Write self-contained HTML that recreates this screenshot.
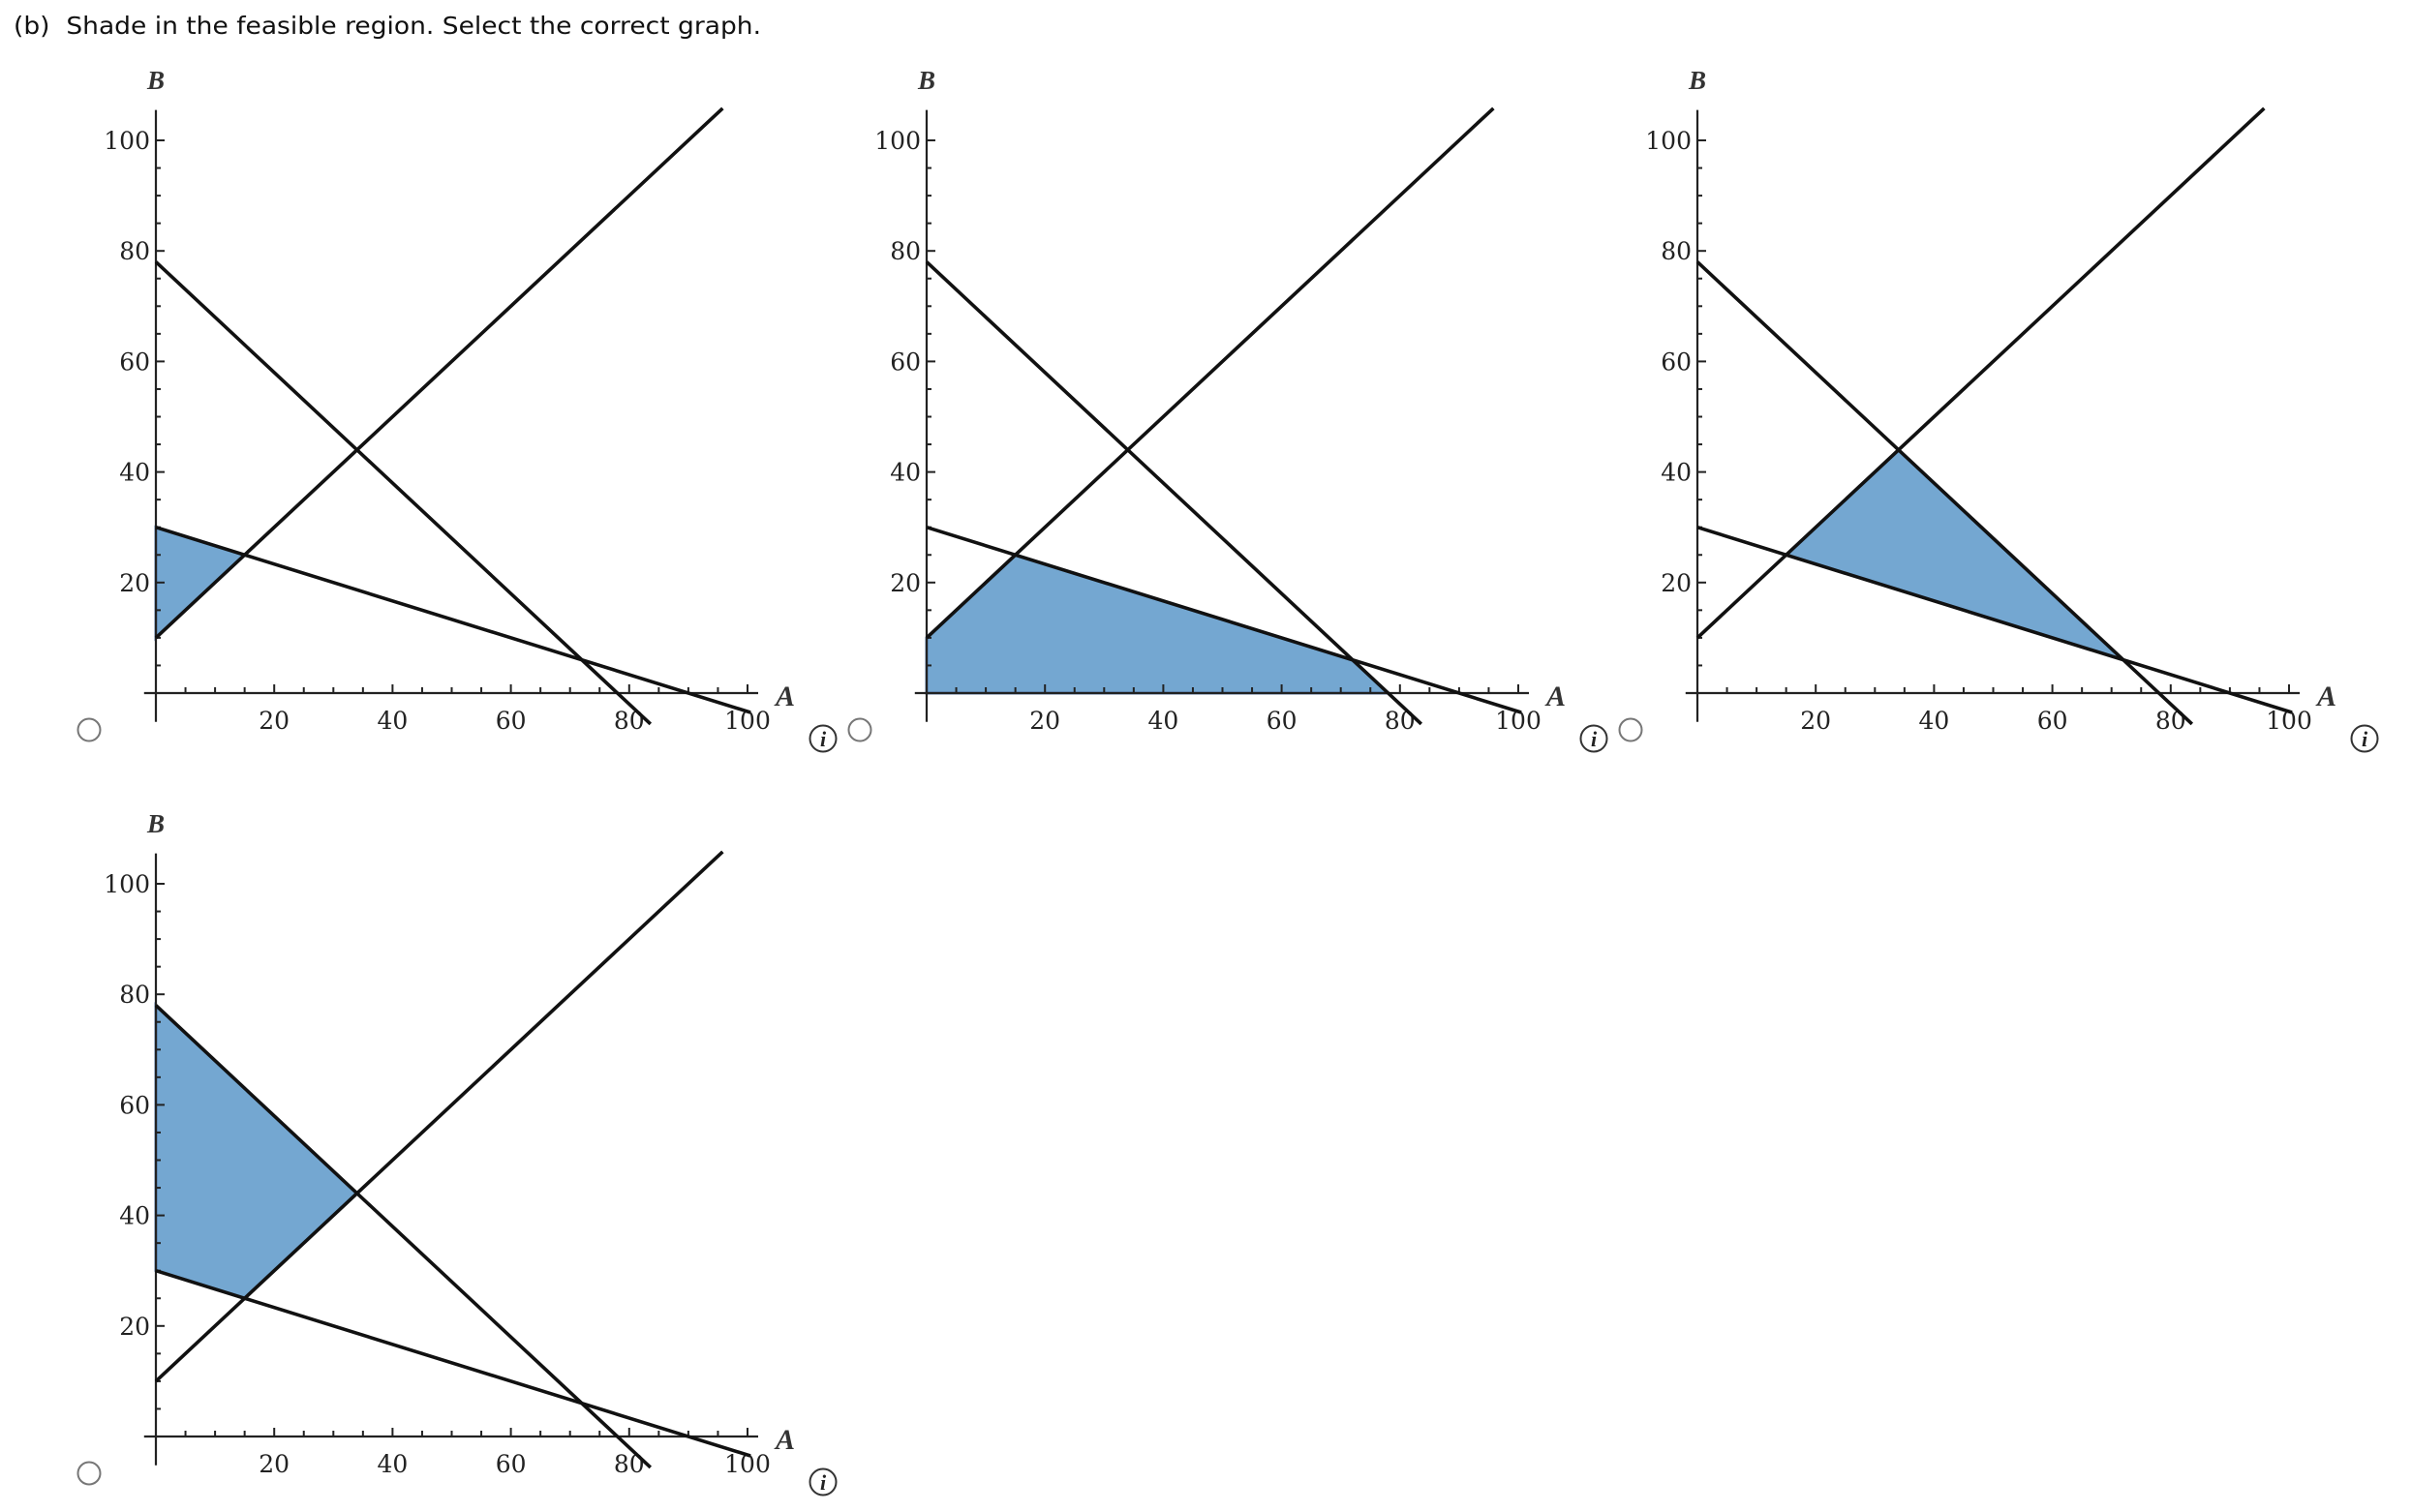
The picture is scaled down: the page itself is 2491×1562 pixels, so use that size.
<!DOCTYPE html>
<html><head><meta charset="utf-8">
<style>
html,body{margin:0;padding:0;background:#fff;}
body{width:2491px;height:1562px;overflow:hidden;position:relative;}
svg{position:absolute;left:0;top:0;}
</style></head>
<body>
<svg id="chart" width="2491" height="1562">
<text x="14" y="35" font-family="DejaVu Sans, Liberation Sans, sans-serif" font-size="25" fill="#111" textLength="772" lengthAdjust="spacingAndGlyphs" xml:space="preserve">(b)  Shade in the feasible region. Select the correct graph.</text>
</svg>
<script>
// Constraint lines: B = intercept + slope*A, drawn from A=0 to A=aEnd
const lineIntercepts = [78, 10, 30];
const lineSlopes = [-1, 1, -1/3];
const lineAEnd = [83.6, 95.8, 100.5];
// Feasible region candidate polygons (A values / B values), one per option
const regionA = [[0, 0, 15], [0, 0, 15, 72, 78], [15, 34, 72], [0, 34, 15, 0]];
const regionB = [[30, 10, 25], [0, 10, 25, 6, 0], [25, 44, 6], [78, 44, 25, 30]];
const tickValues = [20, 40, 60, 80, 100];
const tickLabels = ["20", "40", "60", "80", "100"];

const NS = "http://www.w3.org/2000/svg";
const svg = document.getElementById("chart");
const panelX = [161, 957, 1753, 161];
const panelY = [716, 716, 716, 1484];
const KX = 6.11, KY = 5.71;

function mk(tag, attrs, parent) {
  const e = document.createElementNS(NS, tag);
  for (const k in attrs) e.setAttribute(k, attrs[k]);
  (parent || svg).appendChild(e);
  return e;
}

for (let p = 0; p < 4; p++) {
  const ox = panelX[p], oy = panelY[p];
  const sx = a => ox + a * KX;
  const sy = b => oy - b * KY;
  const g = mk("g", {});
  
  

  const pts = regionA[p].map((a, i) => sx(a) + "," + sy(regionB[p][i])).join(" ");
  const poly = mk("polygon", {points: pts, fill: "#74a7d1", stroke: "#5b7fb3", "stroke-width": 3}, g);
  
  

  const xa = mk("line", {x1: sx(-2), y1: oy, x2: sx(101.8), y2: oy, stroke: "#222", "stroke-width": 2.2}, g);
  
  
  const ya = mk("line", {x1: ox, y1: sy(-5.2), x2: ox, y2: sy(105.5), stroke: "#222", "stroke-width": 2.2}, g);
  
  

  for (let v = 5; v <= 100; v += 5) {
    const major = v % 20 === 0;
    mk("line", {x1: sx(v), y1: oy, x2: sx(v), y2: oy - (major ? 9 : 6), stroke: "#222", "stroke-width": 2}, g);
    mk("line", {x1: ox, y1: sy(v), x2: ox + (major ? 9 : 5), y2: sy(v), stroke: "#222", "stroke-width": 2}, g);
  }
  tickValues.forEach((v, i) => {
    const tx = mk("text", {x: sx(v), y: oy + 37, "text-anchor": "middle", "font-family": "DejaVu Serif, Liberation Serif, serif", "font-size": 25, fill: "#222"}, g);
    tx.textContent = tickLabels[i];
    
    
    const ty = mk("text", {x: ox - 6, y: sy(v) + 9, "text-anchor": "end", "font-family": "DejaVu Serif, Liberation Serif, serif", "font-size": 25, fill: "#222"}, g);
    ty.textContent = tickLabels[i];
    
    
  });
  const bl = mk("text", {x: ox, y: oy - 624, "text-anchor": "middle", "font-family": "Liberation Serif, serif", "font-style": "italic", "font-weight": "bold", "font-size": 27, fill: "#333"}, g);
  bl.textContent = "B";
  
  
  const al = mk("text", {x: ox + 650, y: oy + 13, "text-anchor": "middle", "font-family": "Liberation Serif, serif", "font-style": "italic", "font-weight": "bold", "font-size": 30, fill: "#333"}, g);
  al.textContent = "A";
  
  

  for (let i = 0; i < lineIntercepts.length; i++) {
    const l = mk("line", {x1: sx(0), y1: sy(lineIntercepts[i]), x2: sx(lineAEnd[i]), y2: sy(lineIntercepts[i] + lineSlopes[i] * lineAEnd[i]), stroke: "#111", "stroke-width": 3.6}, g);
    
    
  }

  const r = mk("circle", {cx: ox - 69, cy: oy + 38, r: 11.5, fill: "#fff", stroke: "#777", "stroke-width": 2}, svg);
  
  
  const ig = mk("g", {}, svg);
  
  
  mk("circle", {cx: ox + 689, cy: oy + 47, r: 13.5, fill: "#fff", stroke: "#333", "stroke-width": 2}, ig);
  const it = mk("text", {x: ox + 689, y: oy + 55, "text-anchor": "middle", "font-family": "Liberation Serif, serif", "font-style": "italic", "font-weight": "bold", "font-size": 22, fill: "#222"}, ig);
  it.textContent = "i";
}
</script>
</body></html>
